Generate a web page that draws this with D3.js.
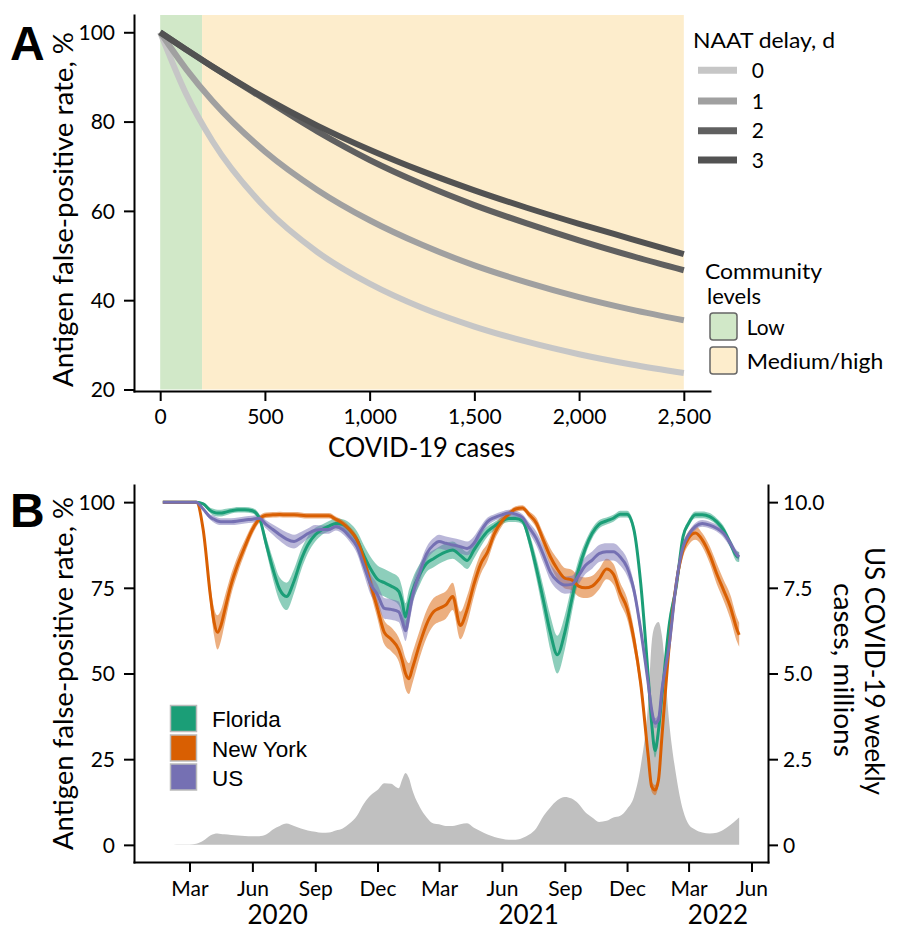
<!DOCTYPE html>
<html><head><meta charset="utf-8">
<script src="https://cdn.jsdelivr.net/npm/d3@7"></script>
<style>
body{margin:0;background:#fff}
svg text{font-family:Lato, "Open Sans", sans-serif;fill:#000}
</style></head><body>
<svg id="c" width="900" height="943"></svg>
<script>
// ---------- Panel A data ----------
const casesA = [0,125,250,500,750,1000,1250,1500,1750,2000,2250,2500];
const delayLabels = ["0","1","2","3"];
const delay0 = [100,86.1,75.6,60.8,50.8,43.7,38.3,34.1,30.7,27.9,25.6,23.7];
const delay1 = [100,91.7,84.6,73.3,64.7,57.9,52.4,47.8,44.0,40.7,37.9,35.5];
const delay2 = [100,96.1,92.3,85.0,77.8,71.4,66.0,61.3,57.2,53.4,49.9,46.7];
const delay3 = [100,96.1,92.3,85.3,79.1,73.7,68.9,64.6,60.7,57.1,53.7,50.3];
const delayColors = ["#c6c6c6","#a0a0a0","#606060","#525252"];
const levelNames = ["Low","Medium/high"];
const levelFrom = [0,200];
const levelTo = [200,2500];
const levelColors = ["#d1e8c8","#fdedcc"];
const xTicksA = [0,500,1000,1500,2000,2500];
const yTicksA = [20,40,60,80,100];

// ---------- Panel B data ----------
const datesB = [
 "2020-01-22",
 "2020-02-01","2020-02-11","2020-02-21",
 "2020-03-01","2020-03-11","2020-03-21",
 "2020-04-01","2020-04-06","2020-04-11","2020-04-16","2020-04-21",
 "2020-05-01","2020-05-11","2020-05-21",
 "2020-06-01","2020-06-11","2020-06-21",
 "2020-07-01","2020-07-11","2020-07-21",
 "2020-08-01","2020-08-11","2020-08-21",
 "2020-09-01","2020-09-11","2020-09-21",
 "2020-10-01","2020-10-11","2020-10-21",
 "2020-11-01","2020-11-11","2020-11-21",
 "2020-12-01","2020-12-11","2020-12-21",
 "2021-01-01","2021-01-06","2021-01-11","2021-01-16","2021-01-21",
 "2021-02-01","2021-02-11","2021-02-21",
 "2021-03-01","2021-03-11","2021-03-21",
 "2021-04-01","2021-04-11","2021-04-21",
 "2021-05-01","2021-05-11","2021-05-21",
 "2021-06-01","2021-06-11","2021-06-21",
 "2021-07-01","2021-07-11","2021-07-21",
 "2021-08-01","2021-08-11","2021-08-21",
 "2021-09-01","2021-09-11","2021-09-21",
 "2021-10-01","2021-10-11","2021-10-21",
 "2021-11-01","2021-11-11","2021-11-21",
 "2021-12-01","2021-12-11","2021-12-21",
 "2022-01-01","2022-01-06","2022-01-11","2022-01-16","2022-01-21",
 "2022-02-01","2022-02-11","2022-02-21",
 "2022-03-01","2022-03-11","2022-03-21",
 "2022-04-01","2022-04-11","2022-04-21",
 "2022-05-01","2022-05-11","2022-05-14"];

const newYork = [
 100,
 100,100,100,
 100,100,92,
 72,65,62,64,68,
 76,82,87,
 92,95,96.2,
 96.3,96.4,96.3,
 96.3,96.2,96.0,
 96.0,96.0,96.0,
 95.0,93.8,92.0,
 89.0,83.5,76.0,
 69.0,62.0,60.0,
 57.0,54.0,50.0,48.5,51.5,
 58.8,64.5,68.0,
 69.0,70.0,72.5,
 64.0,68.6,76.0,
 82.0,85.5,90.8,
 94.5,96.5,98.0,
 98.3,96.3,94.0,
 88.7,84.0,80.5,
 77.8,77.3,75.5,
 75.0,75.5,77.5,
 80.5,79.0,73.5,
 69.0,60.0,47.0,
 25.8,17.0,16.0,19.0,31.6,
 58.8,76.3,86.1,
 89.5,91.0,89.0,
 84.6,79.2,74.4,
 69.5,62.7,61.3];
const newYorkCI = [
 0,
 0,0,0,
 0,0.3,1.5,
 3,4,5,4.5,4,
 3,2.5,2,
 1.5,1,0.8,
 0.8,0.8,0.8,
 0.8,0.8,0.8,
 0.8,0.8,0.8,
 0.8,0.9,1,
 1.2,1.8,2.5,
 3,3.5,3.5,
 3.5,4,4.5,4.5,4.5,
 4,4,4,
 4,4,4,
 4,4,3.5,
 3,2.5,2,
 1.5,1,0.8,
 0.8,1,1.5,
 2,2.5,3,
 3,3,3,
 3,3,3,
 3,3,3,
 3,3,2.5,
 2,1.5,1.5,1.5,2,
 2.5,2.5,2,
 2,2,2,
 2.5,3,3,
 3.5,3.5,3.5];

const florida = [
 100,
 100,100,100,
 100,100,99.5,
 97.5,97.0,96.8,96.8,97.0,
 97.5,97.8,97.8,
 97.5,95.5,88.0,
 80.5,74.5,72.5,
 77.0,83.0,87.5,
 90.5,92.0,93.0,
 93.8,93.5,92.0,
 89.0,84.5,80.5,
 77.5,76.5,75.5,
 74.0,71.0,66.5,70.5,74.0,
 79.0,82.2,83.5,
 84.5,85.5,86.0,
 84.5,83.0,86.0,
 89.0,91.5,93.0,
 94.5,95.2,95.2,
 94.5,89.0,81.0,
 71.0,61.7,55.5,
 62.0,71.5,80.2,
 86.5,90.9,93.5,
 94.5,95.3,96.5,
 96.5,92.0,76.3,
 49.0,35.5,27.5,33.5,43.3,
 64.7,75.4,90.0,
 93.8,96.3,96.3,
 95.8,94.3,91.9,
 88.0,84.1,84.0];
const floridaCI = [
 0,
 0,0,0,
 0,0,0.3,
 0.8,1,1,1,1,
 0.8,0.8,0.8,
 0.8,1,2,
 3,3.5,4,
 3.5,3,2.5,
 2,1.5,1.5,
 1.5,1.5,2,
 2.5,3,3.5,
 4,4,4,
 4,4,4,4,3.5,
 3,2.5,2.5,
 2.5,2.5,2.5,
 2.5,2.5,2.5,
 2,1.5,1.2,
 1,1,1,
 1,2,3,
 4,5,5.5,
 5,4,3,
 2,1.5,1.2,
 1,1,1,
 1,1.5,2,
 2,2,2,2,2,
 2,1.5,1,
 1,1,1,
 1,1,1.2,
 1.2,1.5,1.5];

const us = [
 100,
 100,100,100,
 100,100,98.0,
 95.5,95.0,94.5,94.3,94.3,
 94.3,94.5,94.8,
 95.0,95.3,93.5,
 92.0,90.5,89.2,
 88.5,89.5,90.8,
 91.8,92.0,92.0,
 92.9,92.0,90.0,
 87.0,81.5,76.0,
 73.0,69.0,68.7,
 68.0,65.5,62.5,67.0,72.5,
 79.5,85.0,87.5,
 88.5,88.0,87.5,
 87.0,86.5,88.0,
 91.5,94.3,95.5,
 96.3,96.8,96.5,
 95.5,92.5,89.5,
 84.5,79.5,77.0,
 75.8,76.0,78.5,
 81.5,83.1,85.0,
 85.5,85.5,84.0,
 81.0,74.4,62.7,
 47.0,39.4,35.5,36.5,45.2,
 58.8,76.3,87.0,
 90.4,92.9,93.8,
 93.3,92.4,90.9,
 88.0,84.6,84.0];
const usCI = [
 0,
 0,0,0,
 0,0,0.3,
 0.8,1,1,1,1,
 1,1,1,
 1,1,1.2,
 1.5,1.8,2,
 2,1.8,1.5,
 1.5,1.2,1.2,
 1.2,1.3,1.5,
 2,2.5,3,
 3,3,3,
 3,3,3,3,3,
 2.5,2,2,
 2,2,2,
 2,2,2,
 1.5,1.2,1,
 1,1,1,
 1,1.5,2,
 2.5,2.5,2.5,
 2.5,2.5,2.5,
 2.5,2.5,2.5,
 2.5,2.5,2.5,
 2.5,2,2,
 1.5,1.5,1.5,1.5,1.5,
 1.5,1.5,1.2,
 1,1,1,
 1,1,1.2,
 1.2,1.2,1.2];

// US weekly cases, millions
const usWeeklyCases = [
 0,
 0,0.01,0.01,
 0.01,0.03,0.12,
 0.28,0.32,0.33,0.32,0.31,
 0.29,0.27,0.26,
 0.25,0.25,0.30,
 0.45,0.55,0.62,
 0.55,0.48,0.42,
 0.38,0.35,0.36,
 0.42,0.48,0.62,
 0.85,1.20,1.45,
 1.60,1.80,1.78,
 1.65,1.90,2.10,1.95,1.60,
 1.10,0.80,0.62,
 0.60,0.55,0.55,
 0.60,0.63,0.50,
 0.40,0.30,0.23,
 0.18,0.15,0.15,
 0.20,0.30,0.48,
 0.85,1.10,1.30,
 1.40,1.35,1.20,
 0.95,0.80,0.67,
 0.70,0.80,0.85,
 1.05,1.40,2.30,
 4.20,5.90,6.40,6.50,6.10,
 3.50,2.00,1.00,
 0.60,0.44,0.36,
 0.33,0.35,0.44,
 0.58,0.75,0.80];

const seriesNames = ["Florida","New York","US"];
const seriesColors = ["#1b9e77","#d95f02","#7570b3"];
const xTickDatesB = ["2020-03-01","2020-06-01","2020-09-01","2020-12-01","2021-03-01","2021-06-01","2021-09-01","2021-12-01","2022-03-01","2022-06-01"];
const yearLabels = ["2020","2021","2022"];
const yearLabelDates = ["2020-07-08","2021-07-10","2022-04-13"];
const yTicksB = [0,25,50,75,100];
const yTicksBRight = [0,2.5,5,7.5,10];

// ---------- Drawing ----------
const svg = d3.select("#c");
const parse = d3.timeParse("%Y-%m-%d");
const FS_TICK = 21;

function styleAxis(g){
  g.selectAll("path.domain").attr("stroke","#000").attr("stroke-width",2).attr("stroke-linecap","square");
  g.selectAll(".tick line").attr("stroke","#000").attr("stroke-width",2);
  g.selectAll(".tick text").attr("font-size",FS_TICK).attr("fill","#000").attr("font-family","Lato, sans-serif");
}

// Panel A
const A = {l:134, r:710, t:15, b:391};
const xA = d3.scaleLinear().domain([-125,2625]).range([A.l,A.r]);
const yA = d3.scaleLinear().domain([19.66,103.87]).range([A.b,A.t]);

const gA = svg.append("g");
levelNames.forEach((n,i)=>{
  gA.append("rect").attr("x",xA(levelFrom[i])).attr("width",xA(levelTo[i])-xA(levelFrom[i]))
    .attr("y",A.t).attr("height",yA(20)-A.t).attr("fill",levelColors[i]);
});
const delays = [delay0,delay1,delay2,delay3];
const lineA = d3.line().x((d,i)=>xA(casesA[i])).y(d=>yA(d)).curve(d3.curveMonotoneX);
delays.forEach((arr,i)=>{
  gA.append("path").attr("d",lineA(arr)).attr("fill","none").attr("stroke",delayColors[i]).attr("stroke-width",6);
});

gA.append("g").attr("transform",`translate(0,${A.b})`)
  .call(d3.axisBottom(xA).tickValues(xTicksA).tickFormat(d3.format(",")).tickSize(10).tickSizeOuter(0))
  .call(styleAxis).call(g=>g.selectAll(".tick text").attr("y",33).attr("dy",0));
gA.append("g").attr("transform",`translate(${A.l},0)`)
  .call(d3.axisLeft(yA).tickValues(yTicksA).tickSize(10).tickSizeOuter(0))
  .call(styleAxis).call(g=>g.selectAll(".tick text").attr("x",-19).attr("dy","0.35em"));

gA.append("text").attr("transform","translate(73,209.5) rotate(-90)").attr("text-anchor","middle")
  .attr("font-size",26).attr("textLength",355).attr("lengthAdjust","spacingAndGlyphs").text("Antigen false-positive rate, %");
gA.append("text").attr("x",421.5).attr("y",457).attr("text-anchor","middle")
  .attr("font-size",26).attr("textLength",187).attr("lengthAdjust","spacingAndGlyphs").text("COVID-19 cases");
gA.append("text").attr("x",10).attr("y",60).attr("font-size",48).attr("font-weight","bold")
  .style("font-family","'Liberation Sans', Arial, sans-serif").text("A");

// legend A
gA.append("text").attr("x",693).attr("y",47.7).attr("font-size",22).attr("textLength",142).attr("lengthAdjust","spacingAndGlyphs").text("NAAT delay, d");
const legY = [70.3,101,130.7,160];
delayLabels.forEach((lab,i)=>{
  gA.append("line").attr("x1",698).attr("x2",737).attr("y1",legY[i]).attr("y2",legY[i])
    .attr("stroke",delayColors[i]).attr("stroke-width",7);
  gA.append("text").attr("x",751.7).attr("y",legY[i]).attr("dy","0.36em").attr("font-size",FS_TICK).text(lab);
});
gA.append("text").attr("x",705).attr("y",279).attr("font-size",22).attr("textLength",117).attr("lengthAdjust","spacingAndGlyphs").text("Community");
gA.append("text").attr("x",707).attr("y",304).attr("font-size",22).text("levels");
const boxY = [313,347];
const labW = [38,136.6];
levelNames.forEach((n,i)=>{
  gA.append("rect").attr("x",710).attr("y",boxY[i]).attr("width",27).attr("height",27).attr("rx",3)
    .attr("fill",levelColors[i]).attr("stroke","#666").attr("stroke-width",1.5);
  gA.append("text").attr("x",746.7).attr("y",boxY[i]+22).attr("font-size",22)
    .attr("textLength",labW[i]).attr("lengthAdjust","spacingAndGlyphs").text(n);
});

// Panel B
const B = {l:134, r:768, t:485, b:862};
const dB = datesB.map(parse);
const ext = d3.extent(dB);
const pad = (ext[1]-ext[0])*0.05;
const xB = d3.scaleTime().domain([new Date(+ext[0]-pad), new Date(+ext[1]+pad)]).range([B.l,B.r]);
const yB = d3.scaleLinear().domain([-5,105]).range([B.b,B.t]);
const yBR = d3.scaleLinear().domain([-0.5,10.5]).range([B.b,B.t]);

const gB = svg.append("g");
const area = d3.area().x((d,i)=>xB(dB[i])).y0(yBR(0)).y1(d=>yBR(d)).curve(d3.curveMonotoneX);
gB.append("path").attr("d",area(usWeeklyCases)).attr("fill","#c0c0c0");

const vals = [florida,newYork,us];
const cis = [floridaCI,newYorkCI,usCI];
vals.forEach((v,k)=>{
  const rib = d3.area().x((d,i)=>xB(dB[i])).y0((d,i)=>yB(d-cis[k][i])).y1((d,i)=>yB(Math.min(100,d+cis[k][i]))).curve(d3.curveMonotoneX);
  gB.append("path").attr("d",rib(v)).attr("fill",seriesColors[k]).attr("fill-opacity",0.5);
});
vals.forEach((v,k)=>{
  const ln = d3.line().x((d,i)=>xB(dB[i])).y(d=>yB(d)).curve(d3.curveMonotoneX);
  gB.append("path").attr("d",ln(v)).attr("fill","none").attr("stroke",seriesColors[k]).attr("stroke-width",3);
});

gB.append("g").attr("transform",`translate(0,${B.b})`)
  .call(d3.axisBottom(xB).tickValues(xTickDatesB.map(parse)).tickFormat(d3.timeFormat("%b")).tickSize(10).tickSizeOuter(0))
  .call(styleAxis).call(g=>g.selectAll(".tick text").attr("y",34).attr("dy",0));
gB.append("g").attr("transform",`translate(${B.l},0)`)
  .call(d3.axisLeft(yB).tickValues(yTicksB).tickSize(10).tickSizeOuter(0))
  .call(styleAxis).call(g=>g.selectAll(".tick text").attr("x",-19).attr("dy","0.35em"));
gB.append("g").attr("transform",`translate(${B.r},0)`)
  .call(d3.axisRight(yBR).tickValues(yTicksBRight).tickFormat(d=>d===0?"0":d3.format(".1f")(d)).tickSize(10).tickSizeOuter(0))
  .call(styleAxis).call(g=>g.selectAll(".tick text").attr("x",15).attr("dy","0.35em"));

yearLabels.forEach((y,i)=>{
  gB.append("text").attr("x",xB(parse(yearLabelDates[i]))).attr("y",924).attr("text-anchor","middle")
    .attr("font-size",26).text(y);
});
gB.append("text").attr("transform","translate(73,673.5) rotate(-90)").attr("text-anchor","middle")
  .attr("font-size",26).attr("textLength",353).attr("lengthAdjust","spacingAndGlyphs").text("Antigen false-positive rate, %");
gB.append("text").attr("transform","translate(865,671) rotate(90)").attr("text-anchor","middle")
  .attr("font-size",26).attr("textLength",248).attr("lengthAdjust","spacingAndGlyphs").text("US COVID-19 weekly");
gB.append("text").attr("transform","translate(834,670) rotate(90)").attr("text-anchor","middle")
  .attr("font-size",26).attr("textLength",174).attr("lengthAdjust","spacingAndGlyphs").text("cases, millions");
gB.append("text").attr("x",10).attr("y",527).attr("font-size",48).attr("font-weight","bold")
  .style("font-family","'Liberation Sans', Arial, sans-serif").text("B");

// legend B
const legBY = [705.5,735,764];
seriesNames.forEach((n,i)=>{
  gB.append("rect").attr("x",170.5).attr("y",legBY[i]).attr("width",26).attr("height",26)
    .attr("fill",seriesColors[i]).attr("stroke","#bbb").attr("stroke-width",1.5);
  gB.append("text").attr("x",212).attr("y",legBY[i]+21.5).attr("font-size",22.5)
    .style("font-family","'Liberation Sans', Arial, sans-serif").text(n);
});
</script></body></html>
